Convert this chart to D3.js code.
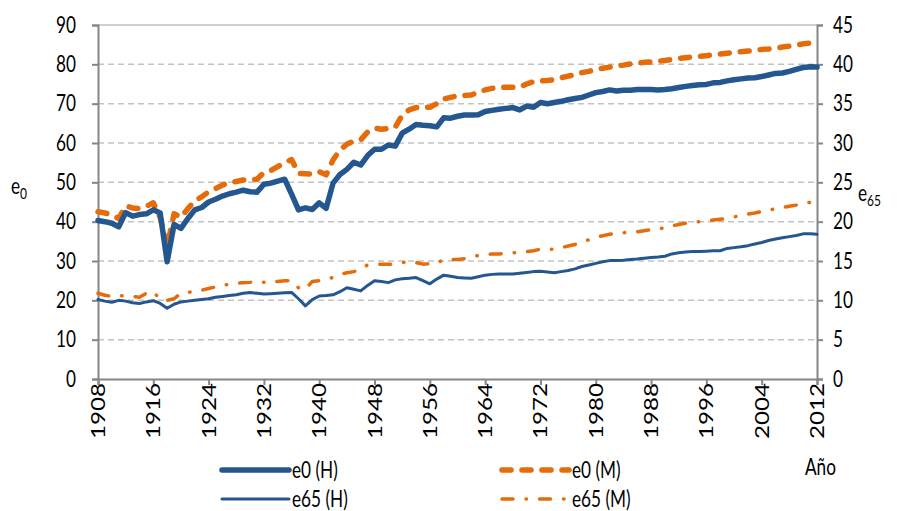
<!DOCTYPE html>
<html>
<head>
<meta charset="utf-8">
<script src="https://cdn.jsdelivr.net/npm/d3@7"></script>
<style>
  body { margin: 0; background: #fff; }
  text { font-family: Lato, "Open Sans", sans-serif; fill: #000; }
</style>
</head>
<body>
<div id="chart"></div>
<script>
// years 1908..2012
var years = d3.range(1908, 2013);

// e0 (H) - left axis
var e0H = [40.3, 40.0, 39.6, 38.7, 42.3, 41.4, 41.8, 42.0, 43.0, 42.2,
  29.8, 39.3, 38.3, 40.8, 43.0, 43.6, 45.0, 45.7, 46.5, 47.1,
  47.5, 48.0, 47.6, 47.5, 49.5, 49.8, 50.3, 50.8, 47.0, 43.0,
  43.5, 43.1, 44.8, 43.4, 49.8, 52.0, 53.3, 55.1, 54.4, 56.8,
  58.4, 58.4, 59.5, 59.2, 62.5, 63.5, 64.7, 64.5, 64.4, 64.1,
  66.4, 66.3, 66.8, 67.1, 67.1, 67.2, 68.0, 68.3, 68.6, 68.8,
  69.0, 68.4, 69.4, 69.1, 70.3, 70.0, 70.3, 70.6, 71.0, 71.3,
  71.6, 72.2, 72.8, 73.1, 73.5, 73.2, 73.4, 73.4, 73.6, 73.6,
  73.6, 73.5, 73.6, 73.8, 74.1, 74.4, 74.6, 74.8, 74.9, 75.3,
  75.4, 75.8, 76.1, 76.3, 76.5, 76.6, 76.9, 77.3, 77.7, 77.8,
  78.2, 78.7, 79.2, 79.4, 79.3];

// e0 (M) - left axis
var e0M = [42.5, 42.2, 41.8, 40.8, 44.0, 43.5, 43.3, 43.9, 44.8, 41.0,
  33.6, 42.0, 41.1, 43.3, 45.3, 46.3, 47.6, 48.4, 49.3, 50.0,
  50.2, 50.6, 50.6, 50.8, 52.5, 53.0, 54.0, 55.0, 55.8, 52.3,
  52.2, 52.1, 52.7, 51.9, 55.7, 58.2, 59.7, 60.5, 60.8, 62.8,
  63.8, 63.5, 63.7, 64.0, 67.1, 68.4, 69.0, 69.1, 69.1, 70.0,
  71.2, 71.6, 72.0, 72.1, 72.2, 72.9, 73.5, 73.9, 74.1, 74.2,
  74.2, 74.2, 75.0, 75.6, 75.8, 75.9, 76.1, 76.6, 77.0, 77.4,
  77.9, 78.2, 78.7, 79.0, 79.3, 79.6, 79.8, 80.1, 80.3, 80.5,
  80.6, 80.8, 81.0, 81.2, 81.5, 81.7, 81.9, 82.0, 82.2, 82.4,
  82.6, 82.8, 83.0, 83.2, 83.4, 83.5, 83.8, 83.9, 84.1, 84.4,
  84.6, 84.9, 85.2, 85.4, 85.6];

// e65 (H) - right axis
var e65H = [10.1, 9.9, 9.75, 10.0, 9.9, 9.7, 9.6, 9.8, 9.95, 9.6,
  9.0, 9.5, 9.8, 9.9, 10.0, 10.1, 10.2, 10.4, 10.5, 10.6,
  10.7, 10.9, 11.0, 10.9, 10.8, 10.85, 10.9, 10.95, 11.0, 10.2,
  9.3, 10.1, 10.55, 10.6, 10.7, 11.1, 11.6, 11.4, 11.2, 11.9,
  12.5, 12.4, 12.25, 12.6, 12.75, 12.8, 12.9, 12.5, 12.1, 12.7,
  13.2, 13.05, 12.9, 12.85, 12.8, 13.0, 13.2, 13.3, 13.35, 13.35,
  13.35, 13.45, 13.55, 13.65, 13.7, 13.6, 13.5, 13.65, 13.8, 14.0,
  14.3, 14.5, 14.7, 14.9, 15.05, 15.05, 15.1, 15.2, 15.25, 15.35,
  15.45, 15.5, 15.6, 15.9, 16.05, 16.15, 16.2, 16.2, 16.25, 16.3,
  16.3, 16.6, 16.7, 16.8, 16.95, 17.15, 17.35, 17.6, 17.8, 17.95,
  18.1, 18.25, 18.45, 18.45, 18.4];

// e65 (M) - right axis
var e65M = [10.9, 10.65, 10.5, 10.55, 10.6, 10.5, 10.4, 10.9, 11.1, 10.1,
  10.0, 10.2, 10.9, 11.0, 11.15, 11.3, 11.5, 11.7, 11.9, 12.05,
  12.15, 12.25, 12.3, 12.4, 12.3, 12.25, 12.4, 12.5, 12.5, 11.6,
  11.4, 12.4, 12.5, 12.7, 12.9, 13.3, 13.5, 13.65, 14.0, 14.5,
  14.6, 14.6, 14.6, 14.6, 14.8, 14.9, 14.8, 14.6, 14.65, 14.7,
  15.2, 15.2, 15.2, 15.3, 15.5, 15.7, 15.8, 15.9, 15.9, 15.95,
  16.05, 16.1, 16.2, 16.3, 16.5, 16.5, 16.5, 16.7, 16.9, 17.1,
  17.4, 17.7, 18.0, 18.2, 18.4, 18.5, 18.6, 18.65, 18.7, 18.85,
  19.0, 19.05, 19.25, 19.45, 19.65, 19.8, 19.95, 20.0, 20.1, 20.2,
  20.3, 20.4, 20.6, 20.75, 20.95, 21.1, 21.3, 21.45, 21.65, 21.8,
  21.95, 22.1, 22.3, 22.45, 22.6];

var xTicks = d3.range(1908, 2013, 8);
var leftTicks = d3.range(0, 91, 10);
var rightTicks = d3.range(0, 46, 5);

var svgWidth = 916;
var svgHeight = 511;
var margin = { top: 25, right: 99, bottom: 132, left: 98 };
var width = svgWidth - margin.left - margin.right;
var height = svgHeight - margin.top - margin.bottom;

var blue = "#24568f";
var orange = "#e46c0a";
var fontSize = "17.2px";
var stretchY = 1.3; // the source text is taller than it is wide

var svg = d3.select("#chart")
  .append("svg")
  .attr("width", svgWidth)
  .attr("height", svgHeight);

var chartGroup = svg.append("g")
  .attr("transform", `translate(${margin.left}, ${margin.top})`);

var xScale = d3.scalePoint().domain(years).range([0, width]);
var yLeft = d3.scaleLinear().domain([0, 90]).range([height, 0]);
var yRight = d3.scaleLinear().domain([0, 45]).range([height, 0]);

// move x/y into a transform so the glyphs can be stretched vertically
function stretch(sel, extra) {
  sel.each(function() {
    var t = d3.select(this);
    var x = +t.attr("x") || 0;
    var y = +t.attr("y") || 0;
    t.attr("x", 0).attr("y", 0)
      .attr("transform", `translate(${x}, ${y}) scale(1, ${stretchY})` + (extra || ""));
  });
}

// gridlines
chartGroup.selectAll(".grid")
  .data(leftTicks.filter(d => d > 0 && d < 90))
  .enter()
  .append("line")
  .attr("x1", 0)
  .attr("x2", width)
  .attr("y1", d => yLeft(d))
  .attr("y2", d => yLeft(d))
  .attr("stroke", "#c3c3c3")
  .attr("stroke-width", 1.5)
  .attr("stroke-dasharray", "6,4");

// top border
chartGroup.append("line")
  .attr("x1", 0).attr("x2", width)
  .attr("y1", 0).attr("y2", 0)
  .attr("stroke", "#bfbfbf")
  .attr("stroke-width", 1.5);

// axes
var leftAxis = d3.axisLeft(yLeft).tickValues(leftTicks).tickSize(6).tickPadding(16);
var rightAxis = d3.axisRight(yRight).tickValues(rightTicks).tickSize(6).tickPadding(10);
var bottomAxis = d3.axisBottom(xScale).tickValues(xTicks).tickSize(6).tickPadding(6);

function styleAxis(g) {
  g.select(".domain").attr("stroke", "#868686").attr("stroke-width", 2);
  g.selectAll(".tick line").attr("stroke", "#868686").attr("stroke-width", 2);
  g.selectAll("text")
    .style("font-family", "Lato, 'Open Sans', sans-serif")
    .style("font-size", fontSize)
    .attr("fill", "#000");
}

var yAxisL = chartGroup.append("g").call(leftAxis).call(styleAxis);
yAxisL.selectAll("text").call(stretch);

var yAxisR = chartGroup.append("g")
  .attr("transform", `translate(${width}, 0)`)
  .call(rightAxis).call(styleAxis);
yAxisR.selectAll("text").call(stretch);

var xAxis = chartGroup.append("g")
  .attr("transform", `translate(0, ${height})`)
  .call(bottomAxis).call(styleAxis);
xAxis.selectAll("text")
  .style("font-size", "18.6px")
  .attr("text-anchor", "end")
  .attr("dy", "0.35em")
  .attr("x", 0)
  .attr("y", 0)
  .attr("transform", `translate(0, 4) scale(1, ${stretchY}) rotate(-90)`);

// lines
function drawLine(values, yScale, color, w, dash) {
  var line = d3.line()
    .x((d, i) => xScale(years[i]))
    .y(d => yScale(d));
  chartGroup.append("path")
    .datum(values)
    .attr("fill", "none")
    .attr("stroke", color)
    .attr("stroke-width", w)
    .attr("stroke-linejoin", "round")
    .attr("stroke-linecap", "round")
    .attr("stroke-dasharray", dash)
    .attr("d", line);
}

drawLine(e65M, yRight, orange, 3.5, "11,13,0.5,13");
drawLine(e65H, yRight, blue, 3, null);
drawLine(e0M, yLeft, orange, 5.5, "9,11");
drawLine(e0H, yLeft, blue, 5.5, null);

// axis titles
var e0Label = svg.append("text")
  .attr("x", 11)
  .attr("y", 194)
  .style("font-size", fontSize);
e0Label.append("tspan").text("e");
e0Label.append("tspan").attr("dy", 4).style("font-size", "12px").text("0");
e0Label.call(stretch);

var e65Label = svg.append("text")
  .attr("x", 858)
  .attr("y", 201)
  .style("font-size", fontSize);
e65Label.append("tspan").text("e");
e65Label.append("tspan").attr("dy", 4).style("font-size", "12px").text("65");
e65Label.call(stretch);

svg.append("text")
  .attr("x", 805)
  .attr("y", 475)
  .style("font-size", fontSize)
  .text("Año")
  .call(stretch);

// legend
var legend = [
  { label: "e0 (H)", color: blue, w: 5.5, dash: null, x: 222, y: 470 },
  { label: "e0 (M)", color: orange, w: 5.5, dash: "9,11", x: 502, y: 470 },
  { label: "e65 (H)", color: blue, w: 3, dash: null, x: 222, y: 499 },
  { label: "e65 (M)", color: orange, w: 3.5, dash: "11,13,0.5,13", x: 502, y: 499 }
];

var legendGroup = svg.append("g");
legend.forEach(function(d) {
  legendGroup.append("line")
    .attr("x1", d.x)
    .attr("x2", d.x + 67)
    .attr("y1", d.y)
    .attr("y2", d.y)
    .attr("stroke", d.color)
    .attr("stroke-width", d.w)
    .attr("stroke-linecap", "round")
    .attr("stroke-dasharray", d.dash);
  legendGroup.append("text")
    .attr("x", d.x + 70)
    .attr("y", d.y)
    .attr("dy", "0.35em")
    .style("font-size", fontSize)
    .text(d.label)
    .call(stretch);
});
</script>
</body>
</html>
